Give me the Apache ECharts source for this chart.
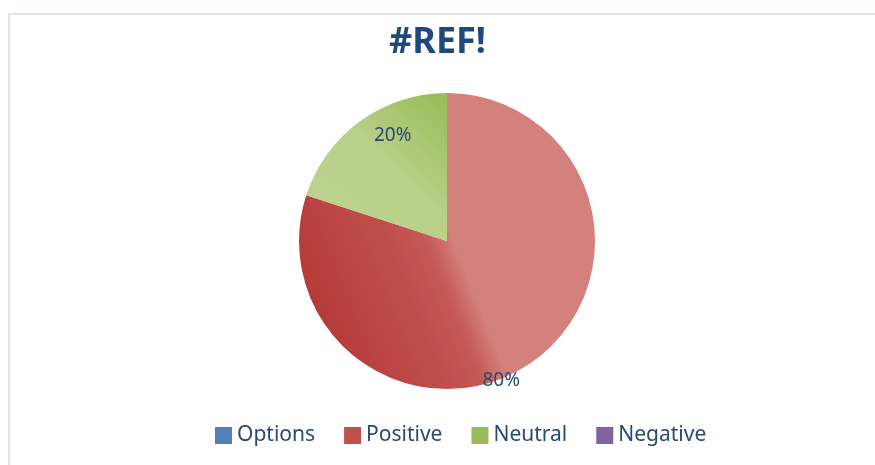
<!DOCTYPE html>
<html>
<head>
    <meta charset="utf-8">
    <title>#REF! pie</title>
    <script src="https://cdn.jsdelivr.net/npm/echarts@6/dist/echarts.min.js"></script>
</head>
<style>
  body { margin: 0; background: #fff; }
  #frame {
    position: absolute; left: 8px; top: 13px; width: 900px; height: 500px;
    border-left: 2px solid #dde7f3; border-top: 2px solid #dde7f3;
  }
  #main { position: absolute; left: 0; top: 0; width: 875px; height: 465px; }
</style>
<body>
    <div id="frame"></div>
    <div id="main"></div>
    <script type="text/javascript">
    // 数据
    var categories = ['Options', 'Positive', 'Neutral', 'Negative'];
    var values = [0, 80, 20, 0];
    var legendColors = ['#4f81bd', '#c0504d', '#9bbb59', '#8064a2'];

    // 每个扇区的渐变
    var fills = {
        Positive: new echarts.graphic.LinearGradient(0, 0.7, 1, 0.3, [
            { offset: 0, color: '#b33936' },
            { offset: 0.35, color: '#c0504d' },
            { offset: 0.44, color: '#c65955' },
            { offset: 0.52, color: '#d4807c' },
            { offset: 1, color: '#d4807c' }
        ]),
        Neutral: new echarts.graphic.LinearGradient(0, 1, 1, 0, [
            { offset: 0, color: '#bcd48f' },
            { offset: 0.55, color: '#b8d088' },
            { offset: 1, color: '#98ba55' }
        ])
    };
    // 标签微调
    var labelOffsets = { Positive: [9, 77], Neutral: [-9, -43] };

    var myChart = echarts.init(document.getElementById('main'));

    var pieData = categories.map(function (name, i) {
        var item = { name: name, value: values[i], itemStyle: { color: fills[name] || legendColors[i] } };
        if (labelOffsets[name]) item.label = { offset: labelOffsets[name] };
        return item;
    });

    var option = {
        backgroundColor: 'transparent',
        title: {
            text: '#REF!',
            left: 'center',
            top: 20,
            textStyle: {
                fontFamily: 'Noto Sans',
                fontSize: 36,
                fontWeight: 'bold',
                color: '#1f497d'
            }
        },
        legend: {
            data: categories.map(function (name, i) {
                return { name: name, itemStyle: { color: legendColors[i] } };
            }),
            left: 215,
            top: 425,
            padding: 0,
            icon: 'rect',
            itemWidth: 17,
            itemHeight: 17,
            itemGap: 29,
            selectedMode: false,
            textStyle: {
                fontFamily: 'Noto Sans',
                fontSize: 21,
                color: '#2b4a72'
            }
        },
        series: [{
            type: 'pie',
            center: [447, 241],
            radius: 148,
            startAngle: 90,
            clockwise: true,
            silent: true,
            label: {
                show: true,
                position: 'inner',
                fontFamily: 'Noto Sans',
                fontSize: 19,
                color: '#2b4a72',
                formatter: function (p) {
                    return p.value ? Math.round(p.percent) + '%' : '';
                }
            },
            labelLine: { show: false },
            itemStyle: { borderWidth: 0 },
            data: pieData
        }]
    };
    myChart.setOption(option);
    </script>
</body>
</html>
